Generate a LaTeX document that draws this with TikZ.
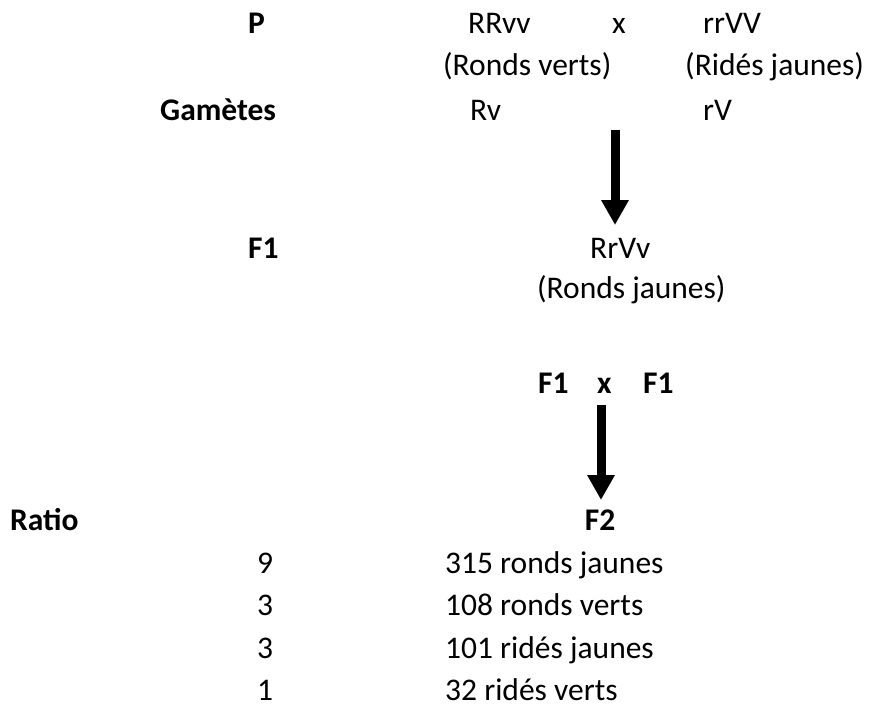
\documentclass[tikz,border=0pt]{standalone}
\usepackage{fontspec}
\setmainfont{Carlito}
\usetikzlibrary{arrows.meta,positioning}
\tikzset{
  every picture/.style={font=\fontsize{31.5}{38}\selectfont},
  txt/.style={inner sep=0pt,anchor=base west},
  lab/.style={txt,font=\fontsize{31.5}{38}\selectfont\bfseries},
  bigarrow/.style={line width=9pt,-{Triangle[width=26pt,length=25pt]}},
}
\begin{document}
\begin{tikzpicture}[x=1pt,y=-1pt]
  \useasboundingbox (0,0) rectangle (871,713);
  % parents
  \node[lab] (p) at (248,33) {P};
  \node[txt] (p1) at (468,33) {RRvv};
  \node[txt,anchor=base] (px) at (619,33) {x};
  \node[txt] (p2) at (703,33) {rrVV};
  \node[txt] (p1ph) at (443,75) {(Ronds verts)};
  \node[txt] (p2ph) at (685,75) {(Ridés jaunes)};
  % gametes
  \node[lab] (gam) at (160,120) {Gamètes};
  \node[txt] (g1) at (470,120) {Rv};
  \node[txt] (g2) at (703,120) {rV};
  \coordinate (a1top) at (615,130);
  \coordinate (a1tip) at (615,225);
  \draw[bigarrow] (a1top) -- (a1tip);
  % F1
  \node[lab] (f1) at (248,258) {F1};
  \node[txt] (f1g) at (590,258) {RrVv};
  \node[txt] (f1ph) at (537,298) {(Ronds jaunes)};
  \node[lab] (fa) at (538,393) {F1};
  \node[lab] (fx) at (597,393) {x};
  \node[lab] (fb) at (643,393) {F1};
  \coordinate (a2top) at (601,405);
  \coordinate (a2tip) at (601,500);
  \draw[bigarrow] (a2top) -- (a2tip);
  % F2
  \node[lab] (ratio) at (10,530) {Ratio};
  \node[lab,anchor=base] (f2) at (600,530) {F2};
  \foreach \r/\txt [count=\i from 0] in {9/315 ronds jaunes,3/108 ronds verts,3/101 ridés jaunes,1/32 ridés verts}{
    \node[txt] (r\i) at (257,573+\i*42.5) {\r};
    \node[txt] (c\i) at (445,573+\i*42.5) {\txt};
  }
\end{tikzpicture}
\end{document}
